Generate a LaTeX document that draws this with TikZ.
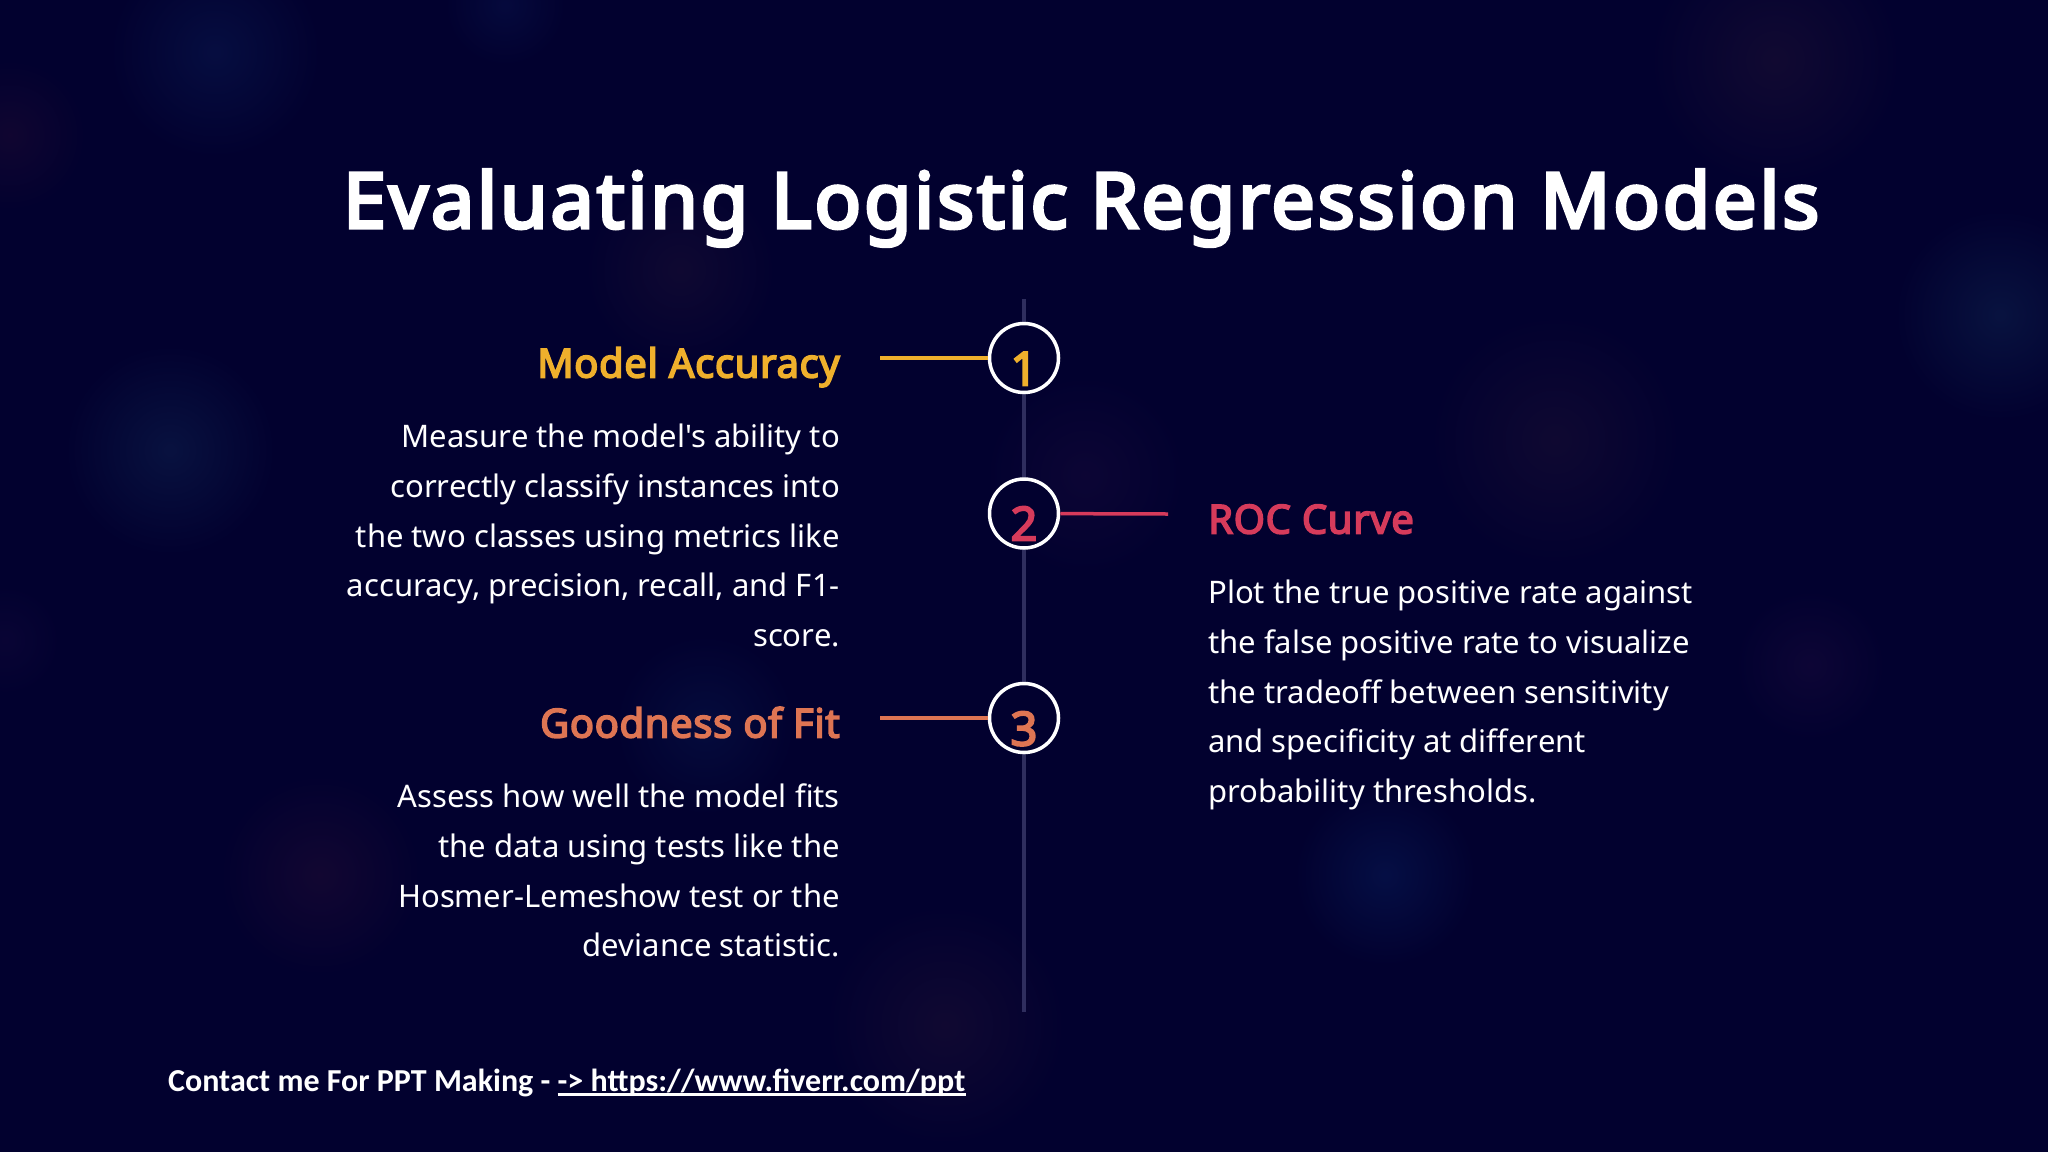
\documentclass[tikz,border=0pt]{standalone}
\usepackage{fontspec}
\newfontfamily\nsans{Noto Sans}
\newfontfamily\titlef{Noto Sans}[FakeBold=4.5,LetterSpace=3.85]
\newfontfamily\headf{Noto Sans}[FakeBold=4,LetterSpace=1.6]
\newfontfamily\footfont{Carlito}
\definecolor{bgc}{HTML}{02012F}
\definecolor{lineg}{HTML}{2F2E5E}
\definecolor{yel}{HTML}{EFB02C}
\definecolor{rdc}{HTML}{D63B5B}
\definecolor{org}{HTML}{DE7553}
\tikzset{
  blob/.style args={#1/#2}{/utils/exec={\definecolor{blobc}{HTML}{#1}},shading=radial,inner color=blobc!50!bgc,outer color=bgc,draw=none,minimum size=#2,circle,inner sep=0pt},
  titletext/.style={font=\titlef\fontsize{77}{85}\selectfont,text=white,anchor=base west,inner sep=0pt},
  headtext/.style={font=\headf\fontsize{40}{46}\selectfont,inner sep=0pt},
  bodytext/.style={font=\nsans\fontsize{31.05}{49.6}\selectfont,text=white,inner sep=0pt},
  stepcircle/.style={circle,draw=white,line width=3.5pt,minimum size=69pt,inner sep=0pt,fill=bgc},
  digit/.style={font=\headf\fontsize{47}{50}\selectfont,anchor=base,inner sep=0pt},
  spine/.style={lineg,line width=4pt},
  conn/.style={line width=3.5pt},
  foottext/.style={font=\footfont\fontsize{32}{36}\selectfont\bfseries,text=white,anchor=base west,inner sep=0pt},
}
\begin{document}
\begin{tikzpicture}[x=1pt,y=-1pt]
\useasboundingbox (0,0) rectangle (2048,1151.7);
\fill[bgc] (-5,-5) rectangle (2053,1157);
% background glows
\node[blob={0A1A52/210pt}] (g1) at (215,52) {};
\node[blob={0E2250/210pt}] (g2) at (170,450) {};
\node[blob={1E0A32/150pt}] (g3) at (10,135) {};
\node[blob={1C1034/190pt}] (g4) at (680,270) {};
\node[blob={220C34/200pt}] (g5) at (320,875) {};
\node[blob={08164A/180pt}] (g6) at (705,725) {};
\node[blob={1E1034/240pt}] (g7) at (945,1025) {};
\node[blob={160A3A/200pt}] (g8) at (1085,475) {};
\node[blob={081C5A/180pt}] (g9) at (1385,875) {};
\node[blob={1C1034/250pt}] (g10) at (1555,440) {};
\node[blob={201234/250pt}] (g11) at (1775,60) {};
\node[blob={0E2450/210pt}] (g12) at (2000,315) {};
\node[blob={180A3C/150pt}] (g13) at (1810,665) {};
\node[blob={10083A/110pt}] (g14) at (5,640) {};
\node[blob={08124A/120pt}] (g15) at (505,5) {};
% title
\node[titletext] (title) at (343,228) {Evaluating Logistic Regression Models};
% timeline
\coordinate (spinetop) at (1024,299);
\coordinate (spineend) at (1024,1012);
\draw[spine] (spinetop) -- (spineend);
% steps
\node[stepcircle] (c1) at (1024,358) {};
\node[stepcircle] (c2) at (1024,513.5) {};
\node[stepcircle] (c3) at (1024,718) {};
\node[digit,text=yel] (d1) at (1024,385.5) {1};
\node[digit,text=rdc] (d2) at (1024,540.5) {2};
\node[digit,text=org] (d3) at (1024,745.5) {3};
% connectors
\coordinate (e1) at (880,358);
\coordinate (e2) at (1168,514);
\coordinate (e3) at (880,718);
\draw[conn,yel] (e1) -- (c1);
\draw[conn,rdc] (c2) -- (e2);
\draw[conn,org] (e3) -- (c3);
% left column
\node[headtext,text=yel,anchor=base east] (h1) at (840,377.5) {Model Accuracy};
\node[bodytext,align=right,anchor=north east] (b1) at (840,424) {Measure the model's ability to\\correctly classify instances into\\the two classes using metrics like\\accuracy, precision, recall, and F1-\\score.};
\node[headtext,text=org,anchor=base east] (h3) at (840,737.5) {Goodness of Fit};
\node[bodytext,align=right,anchor=north east] (b3) at (840,784) {Assess how well the model fits\\the data using tests like the\\Hosmer-Lemeshow test or the\\deviance statistic.};
% right column
\node[headtext,text=rdc,anchor=base west] (h2) at (1208,533.5) {ROC Curve};
\node[bodytext,align=left,anchor=north west] (b2) at (1208,580) {Plot the true positive rate against\\the false positive rate to visualize\\the tradeoff between sensitivity\\and specificity at different\\probability thresholds.};
% footer
\node[foottext] (foot) at (168,1091) {Contact me For PPT Making -};
\node[foottext] (link) at (557.5,1091) {-> https://www.fiverr.com/ppt};
\draw[white,line width=2.5pt] ([yshift=-3.5pt]link.base west) -- ([yshift=-3.5pt]link.base east);
\end{tikzpicture}
\end{document}
